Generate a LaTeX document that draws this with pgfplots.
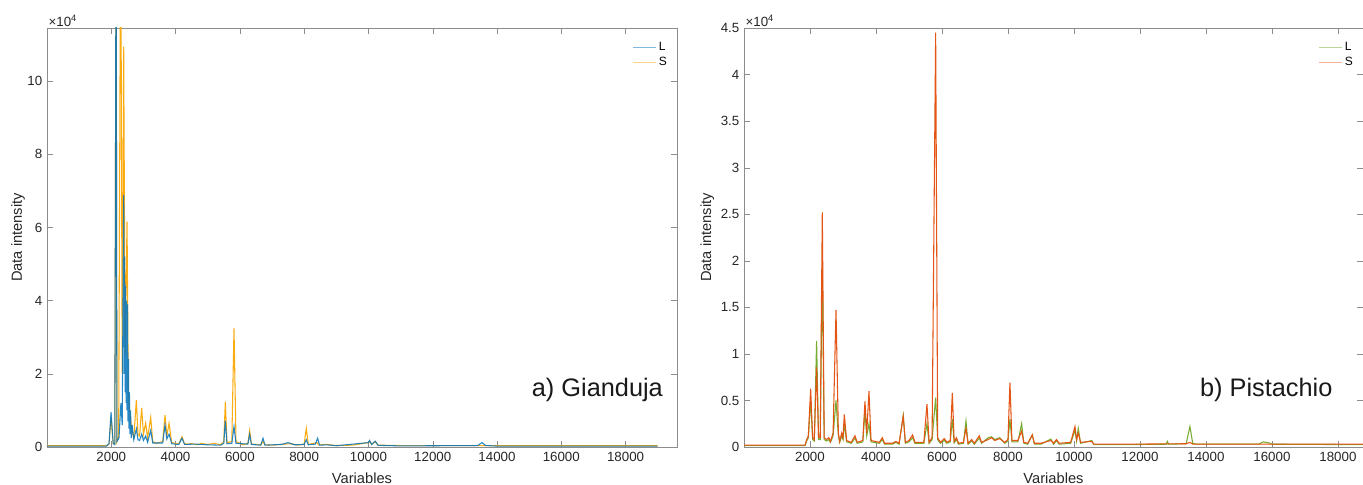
\documentclass[border=0pt]{standalone}
\usepackage{pgfplots}
\pgfplotsset{compat=1.18}
\usepackage{fontspec}
\setmainfont{Liberation Sans}

\definecolor{lblue}{RGB}{0,114,189}
\definecolor{sorange}{RGB}{250,172,18}
\definecolor{lgreen}{RGB}{119,172,48}
\definecolor{sred}{RGB}{228,84,20}
\definecolor{axgray}{RGB}{140,140,140}

\pgfplotsset{
  spec/.style={
    scale only axis, height=314.25pt,
    xmin=0, ymin=0,
    scaled x ticks=false, scaled y ticks=false,
    xtick={2000,4000,...,18000},
    /pgf/number format/1000 sep={},
    /pgf/number format/assume math mode=true,
    tick label style={font=\fontsize{10}{12}\selectfont, text=black!85},
    label style={font=\fontsize{11}{13}\selectfont, text=black!85},
    axis line style={axgray}, major tick style={axgray},
    tick align=inside,
    xlabel={Variables}, ylabel={Data intensity},
    xlabel shift=2pt,
    legend style={draw=none, fill=none, font=\fontsize{9}{10}\selectfont,
      at={(rel axis cs:0.995,0.98)}, anchor=north east},
    legend cell align=left,
    legend image code/.code={\draw[#1] (0pt,0pt) -- (17pt,0pt);},
  },
  sp/.style={line width=0.8pt, forget plot},
}

\begin{document}
\begin{tikzpicture}
\path[use as bounding box] (-35.25pt,-28.5pt) rectangle (987pt,335.25pt);

% a) Gianduja
\begin{axis}[spec, name=ga, width=472.5pt, xmax=19600, ymax=114500,
  ylabel shift=-5pt,
  ytick={0,20000,40000,60000,80000,100000},
  yticklabels={0,2,4,6,8,10}]
\addlegendimage{lblue!50!white, line width=0.8pt}\addlegendentry{L}
\addlegendimage{sorange!50!white, line width=0.8pt}\addlegendentry{S}
\addplot[sp, sorange] coordinates {
(0,350)(1850,350)(1930,800)(1993,8000)(2060,1000)(2110,800)(2150,150000)(2175,1500)(2230,3000)
(2293,150000)(2340,20000)(2386,109400)(2430,25000)(2490,61600)(2530,15000)(2580,9000)(2650,4000)
(2700,2500)(2780,12800)(2830,3500)(2880,3000)(2946,10700)(3000,3500)(3070,6600)(3130,2500)
(3226,8100)(3290,1500)(3400,1000)(3600,1500)(3672,8700)(3730,3000)(3797,6500)(3880,1200)
(4100,800)(4200,2800)(4280,800)(4500,900)(4700,600)(4800,1000)(5000,700)(5200,1000)(5400,600)
(5500,1500)(5548,12400)(5600,1200)(5750,1500)(5818,32400)(5880,1500)(6000,1000)(6100,600)
(6250,1000)(6305,4500)(6360,800)(6650,600)(6720,1500)(6780,600)(7000,500)(7400,800)(7600,900)
(7800,500)(8000,800)(8067,5100)(8130,700)(8400,1200)(8450,600)(8700,700)(9000,400)(9500,500)
(10000,1200)(10036,1500)(10100,700)(10210,1500)(10300,500)(11000,400)(12000,350)(13500,400)
(14000,350)(19000,350)};
\addplot[sp, lblue, opacity=0.85] coordinates {
(0,250)(1850,250)(1930,900)(1993,9500)(2060,900)(2110,700)(2150,150000)(2175,1500)(2240,2500)
(2300,12000)(2340,6000)(2386,68800)(2400,20000)(2415,52000)(2430,15000)(2445,44000)(2460,12000)
(2475,40000)(2490,10000)(2505,39000)(2520,7000)(2535,24000)(2550,5000)(2565,15000)(2580,3500)
(2600,10000)(2620,2500)(2650,6000)(2700,2000)(2780,5000)(2830,2000)(2880,1800)(2946,3500)
(3000,1800)(3070,3000)(3130,1300)(3226,4500)(3290,1100)(3600,1100)(3672,6000)(3730,2200)
(3797,3500)(3880,900)(4100,700)(4200,2400)(4280,700)(4600,800)(5000,600)(5400,500)(5500,1000)
(5548,7200)(5600,900)(5750,1000)(5818,5600)(5880,1000)(6250,800)(6305,3500)(6360,700)(6650,500)
(6720,2400)(6780,500)(7300,700)(7500,1200)(7700,600)(8000,700)(8067,2000)(8130,600)(8350,800)
(8420,2400)(8480,500)(8700,600)(9000,350)(10000,1200)(10036,1800)(10100,700)(10210,1600)
(10300,450)(11000,300)(13400,400)(13530,1200)(13650,400)(14000,250)(19000,250)};
\node[anchor=east, inner sep=0pt, font=\fontsize{19}{22}\selectfont, text=black!90] at (rel axis cs:0.978,0.136) {a) Gianduja};
\end{axis}
\node[anchor=south west, inner sep=1pt, font=\fontsize{10}{11}\selectfont, text=black!85] at (ga.north west) {×10\textsuperscript{4}};

% b) Pistachio
\begin{axis}[spec, name=pa, at={(522.75pt,0pt)}, width=464.25pt, xmax=18760, ymax=45000,
  ylabel shift=-2pt,
  ytick={0,5000,10000,15000,20000,25000,30000,35000,40000,45000},
  yticklabels={0,0.5,1,1.5,2,2.5,3,3.5,4,4.5}]
\addlegendimage{lgreen!50!white, line width=0.8pt}\addlegendentry{L}
\addlegendimage{sred!45!white, line width=0.8pt}\addlegendentry{S}
\addplot[sp, lgreen] coordinates {
(0,150)(1850,150)(1900,650)(1950,1000)(2020,5000)(2080,800)(2130,650)(2200,11400)(2260,800)
(2310,800)(2373,19500)(2430,800)(2500,650)(2570,800)(2620,500)(2700,1200)(2788,5000)(2860,1200)
(2900,500)(2960,1200)(3000,800)(3040,2500)(3110,550)(3250,400)(3363,950)(3430,400)(3600,550)
(3666,3800)(3720,1200)(3787,2500)(3850,550)(4100,400)(4192,800)(4260,300)(4500,300)(4600,500)
(4700,300)(4826,3400)(4890,400)(5000,550)(5110,1000)(5180,400)(5450,400)(5545,2500)(5610,400)
(5700,800)(5808,5300)(5870,800)(5950,400)(6070,700)(6150,400)(6250,550)(6313,3000)(6370,450)
(6440,800)(6500,300)(6650,400)(6727,2800)(6790,300)(6900,650)(6980,300)(7130,950)(7200,400)
(7400,1000)(7500,1100)(7600,800)(7750,1000)(7900,400)(8000,650)(8060,3000)(8120,550)(8300,550)
(8414,2500)(8480,400)(8600,300)(8737,1300)(8800,300)(9000,300)(9300,850)(9380,300)(9470,700)
(9550,300)(9900,400)(10030,1800)(10080,650)(10130,2000)(10200,400)(10540,700)(10600,250)
(11500,250)(12800,300)(12830,600)(12870,300)(13400,350)(13514,2200)(13600,400)(13700,300)
(15600,300)(15735,550)(15900,450)(16000,300)(18760,250)};
\addplot[sp, sred] coordinates {
(0,200)(1850,200)(1900,800)(1950,1200)(2020,6260)(2080,1000)(2130,800)(2200,8550)(2260,1000)
(2310,1000)(2373,25200)(2430,1000)(2500,800)(2570,1000)(2620,600)(2700,1500)(2788,14700)(2860,1500)
(2900,600)(2960,1500)(3000,1000)(3040,3500)(3110,700)(3250,500)(3363,1200)(3430,500)(3600,700)
(3666,4900)(3720,1500)(3787,6000)(3850,700)(4100,500)(4192,1000)(4260,400)(4500,400)(4600,600)
(4700,400)(4826,3300)(4890,500)(5000,700)(5110,1300)(5180,500)(5450,500)(5545,4600)(5610,500)
(5700,1000)(5808,44500)(5870,1000)(5950,500)(6070,900)(6150,500)(6250,700)(6313,5800)(6370,600)
(6440,1000)(6500,400)(6650,500)(6727,2000)(6790,400)(6900,800)(6980,400)(7130,1200)(7200,500)
(7400,800)(7500,1000)(7600,700)(7750,900)(7900,500)(8000,800)(8060,6900)(8120,700)(8300,700)
(8414,1700)(8480,500)(8600,400)(8737,1300)(8800,400)(9000,400)(9300,700)(9380,400)(9470,800)
(9550,400)(9900,500)(10030,2200)(10080,800)(10130,1500)(10200,500)(10540,600)(10600,300)
(11500,300)(13400,350)(13514,500)(13600,300)(18760,300)};
\node[anchor=east, inner sep=0pt, font=\fontsize{19}{22}\selectfont, text=black!90] at (rel axis cs:0.951,0.136) {b) Pistachio};
\end{axis}
\node[anchor=south west, inner sep=1pt, font=\fontsize{10}{11}\selectfont, text=black!85] at (pa.north west) {×10\textsuperscript{4}};
\end{tikzpicture}
\end{document}
